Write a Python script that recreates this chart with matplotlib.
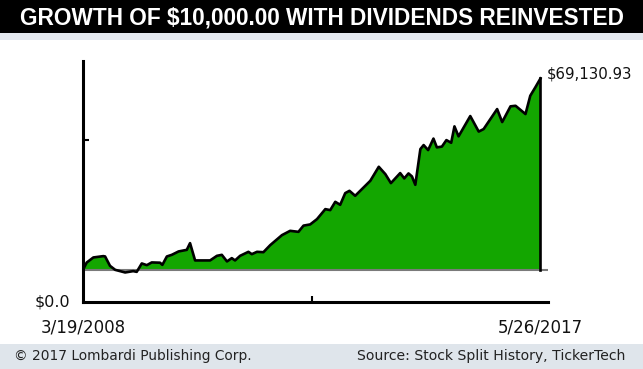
import matplotlib
matplotlib.use('Agg')
import matplotlib.pyplot as plt
from matplotlib.patches import Rectangle
import pandas as pd
import numpy as np

# ---------------- data ----------------
dates = [
    "2008-03-19", "2008-04-15", "2008-06-03", "2008-08-15", "2008-08-28",
    "2008-10-03", "2008-11-10", "2009-01-22", "2009-03-22", "2009-04-17",
    "2009-05-24", "2009-06-30", "2009-08-05", "2009-10-05", "2009-10-22",
    "2009-11-24", "2009-12-30", "2010-02-18", "2010-04-19", "2010-05-13",
    "2010-06-19", "2010-10-07", "2010-11-26", "2011-01-01", "2011-02-08",
    "2011-03-15", "2011-04-08", "2011-05-15", "2011-07-15", "2011-08-09",
    "2011-09-16", "2011-11-02", "2011-12-22", "2012-03-17", "2012-05-16",
    "2012-07-16", "2012-08-22", "2012-10-10", "2012-11-29", "2013-01-29",
    "2013-03-06", "2013-04-12", "2013-05-18", "2013-06-24", "2013-07-25",
    "2013-09-05", "2013-12-25", "2014-02-25", "2014-04-14", "2014-05-25",
    "2014-08-01", "2014-08-31", "2014-10-01", "2014-10-26", "2014-11-20",
    "2014-12-27", "2015-01-20", "2015-02-22", "2015-04-02", "2015-04-27",
    "2015-06-03", "2015-07-06", "2015-08-10", "2015-09-03", "2015-10-03",
    "2015-12-28", "2016-02-28", "2016-04-04", "2016-07-12", "2016-08-18",
    "2016-10-18", "2016-11-24", "2017-02-05", "2017-03-12", "2017-04-18",
    "2017-05-26",
]
values = [
    10000, 12200, 13770, 14180, 14080,
    11180, 9940, 9130, 9540, 9320,
    11920, 11390, 12230, 12150, 11480,
    14080, 14580, 15630, 16120, 18200,
    12850, 12850, 14270, 14580, 12540,
    13560, 12850, 14270, 15510, 14790,
    15510, 15400, 17580, 20670, 22000,
    21690, 23610, 23980, 25620, 28710,
    28400, 30970, 30040, 33660, 34370,
    32830, 37470, 41800, 39540, 36750,
    39850, 38210, 39750, 38830, 36230,
    47270, 48510, 46960, 50520, 47800,
    48040, 50050, 49220, 54290, 51200,
    57480, 52680, 53460, 59640, 55620,
    60480, 60660, 58100, 63760, 66350,
    69130.93,
]
baseline = 10000
y_tick_values = [50000]

title = "GROWTH OF $10,000.00 WITH DIVIDENDS REINVESTED"
end_value_label = "$69,130.93"
start_date_label = "3/19/2008"
end_date_label = "5/26/2017"
zero_label = "$0.0"
footer_left = "\u00a9 2017 Lombardi Publishing Corp."
footer_right = "Source: Stock Split History, TickerTech"

# ---------------- figure ----------------
W, H = 643, 369
fig = plt.figure(figsize=(W / 100, H / 100), dpi=100)


def fx(px):
    return px / W


def fy(py):
    return 1 - py / H


fig.patches.append(Rectangle((0, fy(33)), 1, 33 / H, transform=fig.transFigure,
                             facecolor='black', edgecolor='none', zorder=0))
fig.patches.append(Rectangle((0, fy(40)), 1, 7 / H, transform=fig.transFigure,
                             facecolor='#e4e9ef', edgecolor='none', zorder=0))
fig.patches.append(Rectangle((0, 0), 1, 25 / H, transform=fig.transFigure,
                             facecolor='#dfe5eb', edgecolor='none', zorder=0))

ax = fig.add_axes([fx(83), fy(302), fx(548) - fx(83), fy(61) - fy(302)])
ax.set_facecolor('none')

d = pd.to_datetime(dates)
v = np.array(values, dtype=float)

ax.fill_between(d, v, baseline, where=v >= baseline, interpolate=True,
                color='#13a600', lw=0, zorder=1)
ax.axhline(baseline, color='#7a7a7a', lw=1.5, zorder=2)
ax.plot(d, v, color='black', lw=1.9, solid_joinstyle='round', zorder=3)
ax.plot([d[-1], d[-1]], [v[-1], baseline], color='black', lw=1.9, zorder=3)

span = d[-1] - d[0]
ax.set_xlim(d[0], d[-1] + span * (7.5 / 457.5))
ax.set_ylim(0, 74500)

for s in ['top', 'right']:
    ax.spines[s].set_visible(False)
for s in ['left', 'bottom']:
    ax.spines[s].set_linewidth(2.2)
    ax.spines[s].set_color('black')

ax.set_xticks([d[0] + span / 2])
ax.set_yticks(y_tick_values)
ax.tick_params(direction='in', length=4, width=1.5, color='black',
               labelbottom=False, labelleft=False)

txt_font = ['DejaVu Sans']
ax.annotate(end_value_label, xy=(d[-1], v[-1]), xytext=(6, 4),
            textcoords='offset pixels', ha='left', va='center',
            fontsize=10.8, family=txt_font, color='#111111')
ax.annotate(start_date_label, xy=(d[0], 0), xytext=(0, -25),
            textcoords='offset pixels', ha='center', va='center',
            fontsize=12, family=txt_font, color='#111111')
ax.annotate(end_date_label, xy=(d[-1], 0), xytext=(0, -25),
            textcoords='offset pixels', ha='center', va='center',
            fontsize=12, family=txt_font, color='#111111')
ax.annotate(zero_label, xy=(d[0], 0), xytext=(-13, 0),
            textcoords='offset pixels', ha='right', va='center',
            fontsize=11.5, family=txt_font, color='#111111')

fig.text(0.5, fy(17.5), title, color='white', fontweight='bold',
         ha='center', va='center', fontsize=16.3,
         family=['Liberation Sans', 'DejaVu Sans'])

fig.text(fx(14), fy(356), footer_left, ha='left', va='center',
         fontsize=9.9, family=txt_font, color='#222222')
fig.text(fx(625), fy(356), footer_right, ha='right', va='center',
         fontsize=10.1, family=txt_font, color='#222222')

fig.savefig('out.png', dpi=100)
